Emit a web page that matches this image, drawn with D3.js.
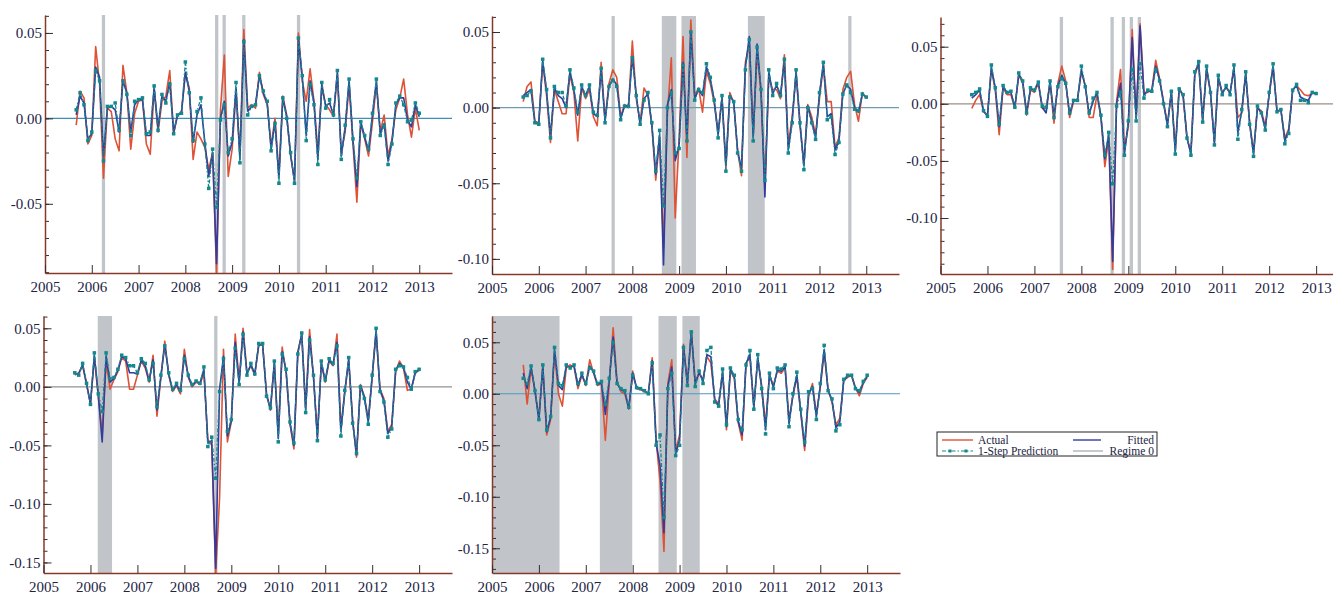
<!DOCTYPE html>
<html><head><meta charset="utf-8">
<script src="https://cdn.jsdelivr.net/npm/d3@7"></script>
<style>
html,body{margin:0;padding:0;background:#fff;}
svg{display:block;}
</style></head><body>
<svg id="c" width="1333" height="596"></svg>
<script>
// ---- time axis: monthly, Sep 2005 .. Jan 2013 ----
const startYear = 2005, startMonthIndex = 8; // September (0-based)
const yearTicks = [2005,2006,2007,2008,2009,2010,2011,2012,2013];

// ---- Panel 1 ----
const actual1 = [-0.004,0.016,0.012,-0.015,-0.010,0.042,0.020,-0.035,0.006,0.004,-0.012,-0.019,0.031,0.015,-0.018,0.003,0.010,0.011,-0.015,-0.021,0.017,-0.008,0.010,0.013,0.028,-0.009,0.002,0.004,0.026,0.018,-0.024,-0.008,-0.012,-0.017,-0.030,-0.020,-0.090,0.005,0.037,-0.034,-0.018,0.015,-0.020,0.052,0.006,0.008,0.006,0.027,0.014,0.008,-0.016,0.000,-0.033,0.013,0.002,-0.022,-0.036,0.050,0.022,0.010,0.029,0.010,-0.020,0.018,0.008,0.005,0.001,0.026,-0.020,-0.008,0.020,-0.015,-0.049,-0.003,-0.012,-0.022,-0.002,0.020,-0.008,0.002,-0.022,-0.012,0.005,0.012,0.023,0.002,-0.011,0.006,-0.007];
const fitted1 = [0.002,0.013,0.009,-0.012,-0.009,0.030,0.024,-0.022,0.006,0.007,0.005,-0.008,0.022,0.015,-0.008,0.008,0.011,0.011,-0.010,-0.010,0.018,-0.006,0.013,0.010,0.021,-0.008,0.002,0.003,0.027,0.016,-0.014,0.002,0.008,-0.014,-0.034,-0.020,-0.085,0.000,0.010,-0.022,-0.014,0.018,-0.024,0.046,0.004,0.007,0.008,0.025,0.015,0.009,-0.018,-0.002,-0.035,0.012,0.001,-0.021,-0.037,0.046,0.024,-0.010,0.022,0.009,-0.024,0.020,0.007,0.009,0.002,0.027,-0.022,-0.005,0.022,-0.013,-0.040,-0.002,-0.011,-0.019,0.002,0.022,-0.009,-0.003,-0.025,-0.014,0.008,0.012,0.012,-0.001,-0.005,0.008,0.001];
const pred1 = [0.005,0.015,0.008,-0.013,-0.008,0.028,0.022,-0.025,0.007,0.007,0.009,-0.007,0.022,0.014,-0.010,0.010,0.011,0.012,-0.009,-0.008,0.019,-0.007,0.014,0.009,0.020,-0.009,0.002,0.003,0.033,0.015,-0.013,0.004,0.012,-0.015,-0.041,-0.018,-0.052,-0.001,0.008,-0.020,-0.012,0.021,-0.026,0.045,0.002,0.007,0.008,0.025,0.016,0.010,-0.019,-0.003,-0.038,0.012,0.000,-0.020,-0.038,0.047,0.025,-0.013,0.020,0.008,-0.027,0.021,0.006,0.011,0.002,0.028,-0.024,-0.004,0.023,-0.012,-0.035,-0.002,-0.010,-0.018,0.003,0.023,-0.010,-0.004,-0.027,-0.015,0.009,0.013,0.008,-0.002,-0.001,0.009,0.003];
const regimes1 = [[2006.215,2006.285],[2008.635,2008.705],[2008.795,2008.865],[2009.215,2009.285],[2010.385,2010.455]];
const yTicks1 = [-0.05,0,0.05];

// ---- Panel 2 ----
const actual2 = [0.004,0.014,0.017,-0.009,-0.010,0.030,0.008,-0.023,0.012,0.004,-0.004,-0.004,0.022,0.010,-0.022,0.013,0.006,0.012,-0.006,-0.012,0.030,-0.008,0.016,0.025,0.020,-0.006,0.002,0.000,0.044,0.006,-0.010,0.013,0.008,-0.012,-0.048,-0.020,-0.092,-0.004,0.033,-0.073,-0.020,0.047,-0.033,0.058,0.008,0.013,-0.003,0.024,0.016,0.003,-0.016,0.006,-0.040,0.010,0.003,-0.028,-0.045,0.030,0.042,-0.018,0.036,0.010,-0.052,0.020,0.012,0.012,0.006,0.035,-0.025,-0.006,0.022,-0.012,-0.038,0.002,-0.006,-0.018,0.006,0.028,0.004,0.004,-0.026,-0.020,0.012,0.020,0.024,0.002,-0.009,0.010,0.006];
const fitted2 = [0.008,0.010,0.012,-0.010,-0.011,0.031,0.011,-0.019,0.013,0.008,0.006,0.000,0.024,0.012,-0.005,0.014,0.008,0.014,-0.004,-0.006,0.025,-0.009,0.014,0.019,0.015,-0.007,0.001,0.001,0.034,0.008,-0.011,0.006,0.009,-0.011,-0.044,-0.018,-0.104,0.002,0.012,-0.035,-0.025,0.030,-0.020,0.050,0.006,0.012,0.008,0.027,0.019,0.005,-0.018,0.007,-0.038,0.008,0.004,-0.029,-0.040,0.027,0.047,-0.020,0.042,0.012,-0.059,0.024,0.009,0.015,0.008,0.031,-0.028,-0.009,0.024,-0.010,-0.038,0.001,-0.009,-0.020,0.009,0.029,-0.006,-0.004,-0.028,-0.022,0.009,0.015,0.012,0.000,-0.003,0.009,0.007];
const pred2 = [0.007,0.008,0.011,-0.010,-0.011,0.032,0.012,-0.020,0.014,0.010,0.010,0.001,0.025,0.013,-0.003,0.015,0.008,0.015,-0.003,-0.005,0.026,-0.010,0.014,0.018,0.014,-0.008,0.001,0.001,0.033,0.008,-0.011,0.005,0.010,-0.010,-0.042,-0.015,-0.065,0.000,0.010,-0.030,-0.027,0.028,-0.022,0.050,0.005,0.012,0.010,0.029,0.020,0.005,-0.020,0.008,-0.042,0.007,0.004,-0.030,-0.042,0.025,0.045,-0.022,0.040,0.012,-0.048,0.025,0.008,0.016,0.008,0.032,-0.030,-0.010,0.025,-0.010,-0.041,0.000,-0.010,-0.021,0.010,0.030,-0.008,-0.006,-0.031,-0.023,0.009,0.015,0.010,-0.001,-0.002,0.009,0.007];
const regimes2 = [[2007.555,2007.625],[2008.63,2008.94],[2009.05,2009.36],[2010.47,2010.83],[2012.615,2012.685]];
const yTicks2 = [-0.10,-0.05,0,0.05];

// ---- Panel 3 ----
const actual3 = [-0.004,0.003,0.008,-0.007,-0.010,0.030,0.012,-0.027,0.014,0.008,0.008,-0.004,0.025,0.018,-0.010,0.012,0.010,0.018,-0.004,-0.004,0.018,-0.017,0.018,0.033,0.020,-0.012,0.002,0.004,0.028,0.016,-0.012,-0.012,0.008,-0.012,-0.055,-0.030,-0.145,0.002,0.030,-0.040,-0.020,0.065,-0.012,0.070,0.010,0.010,0.012,0.038,0.022,0.002,-0.018,0.010,-0.040,0.014,0.006,-0.030,-0.042,0.026,0.034,-0.014,0.030,0.010,-0.033,0.022,0.010,0.014,0.010,0.030,-0.012,-0.008,0.026,-0.016,-0.042,-0.004,-0.006,-0.020,0.008,0.032,-0.006,-0.006,-0.030,-0.022,0.012,0.016,0.012,0.008,0.007,0.009,0.009];
const fitted3 = [0.005,0.008,0.012,-0.006,-0.011,0.032,0.014,-0.020,0.015,0.010,0.010,-0.003,0.026,0.020,-0.008,0.013,0.012,0.019,-0.003,-0.008,0.020,-0.011,0.016,0.025,0.018,-0.009,0.003,0.003,0.030,0.015,-0.009,0.002,0.010,-0.011,-0.048,-0.026,-0.138,0.000,0.018,-0.044,-0.016,0.058,-0.013,0.068,0.008,0.011,0.011,0.033,0.021,0.001,-0.019,0.011,-0.042,0.013,0.008,-0.030,-0.044,0.027,0.036,-0.015,0.032,0.010,-0.035,0.024,0.009,0.015,0.009,0.032,-0.025,-0.006,0.027,-0.017,-0.044,-0.003,-0.008,-0.022,0.009,0.033,-0.007,-0.005,-0.032,-0.024,0.012,0.016,0.006,0.004,0.003,0.010,0.009];
const pred3 = [0.008,0.010,0.013,-0.006,-0.011,0.034,0.014,-0.018,0.016,0.010,0.011,-0.003,0.027,0.020,-0.008,0.014,0.012,0.019,-0.002,-0.003,0.020,-0.012,0.015,0.022,0.018,-0.008,0.003,0.003,0.033,0.015,-0.008,0.005,0.010,-0.010,-0.045,-0.025,-0.070,-0.002,0.010,-0.045,-0.015,0.030,-0.015,0.035,0.005,0.012,0.011,0.030,0.020,0.000,-0.020,0.011,-0.044,0.013,0.008,-0.030,-0.045,0.028,0.037,-0.016,0.033,0.010,-0.036,0.025,0.008,0.016,0.008,0.034,-0.031,-0.005,0.028,-0.018,-0.046,-0.002,-0.008,-0.023,0.010,0.035,-0.007,-0.005,-0.035,-0.026,0.012,0.017,0.003,0.003,0.001,0.010,0.009];
const regimes3 = [[2007.54,2007.61],[2008.62,2008.69],[2008.86,2008.93],[2009.03,2009.10],[2009.20,2009.27]];
const yTicks3 = [-0.10,-0.05,0,0.05];

// ---- Panel 4 ----
const actual4 = [0.010,0.012,0.018,0.002,-0.014,0.025,-0.008,-0.040,0.022,-0.002,0.006,0.013,0.025,0.022,-0.002,-0.002,0.010,0.022,0.016,0.004,0.027,-0.025,0.008,0.039,0.010,-0.004,0.001,-0.006,0.032,0.008,0.000,0.004,0.002,0.012,-0.045,-0.050,-0.160,-0.095,0.032,-0.047,-0.030,0.045,0.004,0.050,0.012,0.018,0.010,0.035,0.036,-0.006,-0.020,0.020,-0.040,0.034,0.012,-0.032,-0.053,0.030,0.045,-0.018,0.049,0.008,-0.042,0.020,0.004,0.022,0.018,0.045,-0.035,-0.005,0.022,-0.028,-0.060,0.002,-0.008,-0.028,0.008,0.046,-0.002,-0.010,-0.038,-0.032,0.013,0.022,0.016,-0.003,-0.002,0.012,0.014];
const fitted4 = [0.011,0.011,0.019,0.003,-0.015,0.027,-0.007,-0.047,0.026,0.004,0.007,0.014,0.026,0.024,0.012,0.012,0.011,0.023,0.018,0.005,0.023,-0.020,0.009,0.036,0.011,-0.003,0.002,-0.004,0.027,0.009,0.001,0.005,0.003,0.015,-0.048,-0.046,-0.155,-0.002,0.026,-0.042,-0.029,0.038,0.003,0.047,0.011,0.019,0.011,0.036,0.036,-0.007,-0.019,0.021,-0.044,0.030,0.014,-0.031,-0.050,0.029,0.045,-0.020,0.043,0.009,-0.044,0.021,0.005,0.023,0.019,0.038,-0.038,-0.004,0.024,-0.029,-0.058,0.001,-0.009,-0.030,0.009,0.048,-0.003,-0.012,-0.040,-0.034,0.014,0.020,0.017,0.004,-0.002,0.012,0.015];
const pred4 = [0.012,0.010,0.020,0.003,-0.015,0.029,-0.006,-0.021,0.029,0.007,0.008,0.015,0.027,0.025,0.018,0.018,0.012,0.024,0.020,0.006,0.020,-0.017,0.010,0.035,0.012,-0.002,0.003,-0.003,0.024,0.010,0.002,0.005,0.003,0.017,-0.051,-0.043,-0.078,-0.004,0.024,-0.038,-0.028,0.033,0.002,0.045,0.010,0.020,0.011,0.037,0.037,-0.008,-0.018,0.022,-0.047,0.028,0.015,-0.030,-0.048,0.028,0.046,-0.022,0.040,0.010,-0.046,0.022,0.006,0.024,0.020,0.035,-0.042,-0.003,0.025,-0.031,-0.057,0.000,-0.010,-0.032,0.010,0.050,-0.004,-0.013,-0.043,-0.036,0.015,0.018,0.017,0.008,-0.002,0.013,0.015];
const regimes4 = [[2006.155,2006.46],[2008.635,2008.705]];
const yTicks4 = [-0.15,-0.10,-0.05,0,0.05];

// ---- Panel 5 ----
const actual5 = [0.028,-0.010,0.025,0.002,-0.022,0.025,-0.040,-0.025,0.040,0.000,-0.012,0.025,0.028,0.026,0.005,0.018,0.008,0.033,0.020,0.008,0.010,-0.045,0.010,0.064,0.012,0.002,0.000,-0.015,0.022,0.005,0.004,0.002,0.001,0.035,-0.045,-0.085,-0.153,0.010,0.033,-0.055,-0.040,0.048,0.010,0.060,0.012,0.020,0.014,0.036,0.030,-0.005,-0.010,0.020,-0.035,0.022,0.015,-0.028,-0.045,0.030,0.035,-0.012,0.034,0.008,-0.030,0.018,0.008,0.022,0.020,0.025,-0.025,-0.002,0.016,-0.018,-0.055,-0.003,0.010,-0.020,0.006,0.040,0.004,-0.008,-0.030,-0.024,0.013,0.016,0.018,0.006,-0.002,0.010,0.016];
const fitted5 = [0.020,0.005,0.026,0.003,-0.026,0.027,-0.037,-0.023,0.043,0.008,0.004,0.027,0.026,0.027,0.008,0.019,0.009,0.027,0.021,0.009,0.011,-0.020,0.013,0.055,0.010,0.004,0.002,-0.014,0.020,0.006,0.005,0.003,0.000,0.032,-0.048,-0.070,-0.135,0.007,0.026,-0.058,-0.045,0.046,0.009,0.061,0.009,0.021,0.012,0.038,0.036,-0.007,-0.011,0.022,-0.032,0.024,0.017,-0.027,-0.040,0.029,0.038,-0.014,0.035,0.006,-0.035,0.019,0.006,0.023,0.022,0.026,-0.029,-0.001,0.018,-0.017,-0.051,0.000,0.007,-0.022,0.008,0.043,0.003,-0.006,-0.033,-0.027,0.013,0.017,0.018,0.005,0.001,0.011,0.017];
const pred5 = [0.015,0.010,0.027,0.003,-0.025,0.028,-0.035,-0.022,0.045,0.010,0.008,0.028,0.025,0.028,0.010,0.020,0.010,0.025,0.022,0.010,0.012,-0.010,0.015,0.050,0.010,0.005,0.003,-0.013,0.018,0.006,0.005,0.003,0.000,0.030,-0.050,-0.040,-0.120,0.005,0.020,-0.060,-0.050,0.045,0.008,0.060,0.007,0.022,0.010,0.042,0.045,-0.008,-0.012,0.024,-0.030,0.025,0.018,-0.025,-0.035,0.028,0.042,-0.015,0.038,0.005,-0.039,0.020,0.005,0.025,0.024,0.028,-0.032,0.000,0.021,-0.015,-0.047,0.002,0.005,-0.025,0.010,0.047,0.003,-0.005,-0.036,-0.030,0.014,0.018,0.018,0.005,0.003,0.012,0.018];
const regimes5 = [[2005.0,2006.44],[2007.30,2007.99],[2008.55,2008.94],[2009.06,2009.43]];
const yTicks5 = [-0.15,-0.10,-0.05,0,0.05];

// ---- legend ----
const legendItems = ["Actual","Fitted","1-Step Prediction","Regime 0"];

// ---- layout (pixels) ----
const panels = [
  {a:actual1,f:fitted1,p:pred1,reg:regimes1,ticks:yTicks1,dom:[-0.0905,0.0605],x0:45,x1:452,top:15,bot:273,zero:"#3d8fb8"},
  {a:actual2,f:fitted2,p:pred2,reg:regimes2,ticks:yTicks2,dom:[-0.110,0.0606],x0:492,x1:899,top:16,bot:274,zero:"#6f9bb0"},
  {a:actual3,f:fitted3,p:pred3,reg:regimes3,ticks:yTicks3,dom:[-0.149,0.076],x0:940.5,x1:1349,top:17,bot:274,zero:"#9c8f88"},
  {a:actual4,f:fitted4,p:pred4,reg:regimes4,ticks:yTicks4,dom:[-0.159,0.0605],x0:43.5,x1:452,top:316,bot:573,zero:"#8f9294"},
  {a:actual5,f:fitted5,p:pred5,reg:regimes5,ticks:yTicks5,dom:[-0.174,0.0755],x0:492,x1:900,top:316,bot:573,zero:"#4f98c4"}
];

const C = {actual:"#de5236", fitted:"#323c9e", pred:"#14888e", regime:"#c1c5c9", axis:"#86392b", text:"#1d2444"};
const svg = d3.select("#c");
const FONT = "'Liberation Serif','Times New Roman',serif";
const tOf = i => startYear + (startMonthIndex + i)/12;
const fmt = d => d.toFixed(2);

panels.forEach((P, k) => {
  const x = d3.scaleLinear().domain([2005, 2013.7]).range([P.x0, P.x1]);
  const y = d3.scaleLinear().domain(P.dom).range([P.bot, P.top]);
  const g = svg.append("g");
  const clipId = "clip"+k;
  svg.append("clipPath").attr("id", clipId).append("rect")
    .attr("x", P.x0).attr("y", P.top).attr("width", P.x1-P.x0).attr("height", P.bot-P.top);

  // regime bands
  g.append("g").selectAll("rect").data(P.reg).join("rect")
    .attr("x", d => x(d[0])).attr("width", d => x(d[1]) - x(d[0]))
    .attr("y", P.top).attr("height", P.bot - P.top)
    .attr("fill", C.regime);

  // zero line
  g.append("line").attr("x1", P.x0).attr("x2", P.x1).attr("y1", y(0)).attr("y2", y(0))
    .attr("stroke", P.zero).attr("stroke-width", 1.2);

  const line = d3.line().x((d,i) => x(tOf(i))).y(d => y(d));
  const dg = g.append("g").attr("clip-path", `url(#${clipId})`);
  dg.append("path").datum(P.a).attr("d", line).attr("fill","none")
    .attr("stroke", C.actual).attr("stroke-width", 1.6).attr("stroke-linejoin","round");
  dg.append("path").datum(P.f).attr("d", line).attr("fill","none")
    .attr("stroke", C.fitted).attr("stroke-width", 1.6).attr("stroke-linejoin","round");
  dg.append("path").datum(P.p).attr("d", line).attr("fill","none")
    .attr("stroke", C.pred).attr("stroke-width", 1.3).attr("stroke-dasharray","4 2 1.5 2");
  dg.append("g").selectAll("rect").data(P.p).join("rect")
    .attr("x", (d,i) => x(tOf(i)) - 1.75).attr("y", d => y(d) - 1.75)
    .attr("width", 3.5).attr("height", 3.5).attr("fill", C.pred);

  // minor y ticks
  const minor = d3.range(Math.ceil(P.dom[0]*100), Math.floor(P.dom[1]*100)+1).map(v => v/100);
  g.append("g").attr("transform", `translate(${P.x0},0)`)
    .call(d3.axisLeft(y).tickValues(minor).tickSizeInner(-4).tickSizeOuter(0).tickFormat(""))
    .call(a => a.select(".domain").remove())
    .call(a => a.selectAll("line").attr("stroke", "#3b2b2b"));

  // major y axis
  g.append("g").attr("transform", `translate(${P.x0},0)`)
    .call(d3.axisLeft(y).tickValues(P.ticks).tickSizeInner(-8).tickSizeOuter(0).tickPadding(3).tickFormat(fmt))
    .call(a => a.select(".domain").attr("stroke", C.axis).attr("stroke-width", 1.5))
    .call(a => a.selectAll("line").attr("stroke", "#3b2b2b"))
    .call(a => a.selectAll("text").attr("font-family", FONT).attr("font-size", 15).attr("fill", C.text));

  // x axis
  g.append("g").attr("transform", `translate(0,${P.bot})`)
    .call(d3.axisBottom(x).tickValues(yearTicks).tickSizeInner(-8).tickSizeOuter(0).tickPadding(8).tickFormat(d => String(d)))
    .call(a => a.select(".domain").attr("stroke", C.axis).attr("stroke-width", 1.5))
    .call(a => a.selectAll("line").attr("stroke", "#3b2b2b"))
    .call(a => a.selectAll("text").attr("font-family", FONT).attr("font-size", 15).attr("fill", C.text));
});

// legend
const L = svg.append("g").attr("font-family", FONT).attr("font-size", 11.5).attr("fill", C.text);
L.append("rect").attr("x", 937).attr("y", 432).attr("width", 220).attr("height", 24)
  .attr("fill", "#fff").attr("stroke", "#222").attr("stroke-width", 1);
const r1 = 440, r2 = 451;
L.append("line").attr("x1", 942).attr("x2", 973).attr("y1", r1).attr("y2", r1).attr("stroke", C.actual).attr("stroke-width", 1.4);
L.append("text").attr("x", 978).attr("y", r1).attr("dy", "0.35em").text(legendItems[0]);
L.append("line").attr("x1", 1073).attr("x2", 1101).attr("y1", r1).attr("y2", r1).attr("stroke", C.fitted).attr("stroke-width", 1.4);
L.append("text").attr("x", 1154).attr("y", r1).attr("dy", "0.35em").attr("text-anchor","end").text(legendItems[1]);
L.append("line").attr("x1", 942).attr("x2", 973).attr("y1", r2).attr("y2", r2).attr("stroke", C.pred).attr("stroke-width", 1.2).attr("stroke-dasharray","4 2 1.5 2");
L.selectAll("rect.mk").data([950, 966]).join("rect").attr("class","mk")
  .attr("x", d => d-1.5).attr("y", r2-1.5).attr("width", 3).attr("height", 3).attr("fill", C.pred);
L.append("text").attr("x", 978).attr("y", r2).attr("dy", "0.35em").text(legendItems[2]);
L.append("line").attr("x1", 1073).attr("x2", 1103).attr("y1", r2).attr("y2", r2).attr("stroke", "#aab5bd").attr("stroke-width", 1.4);
L.append("text").attr("x", 1154).attr("y", r2).attr("dy", "0.35em").attr("text-anchor","end").text(legendItems[3]);
</script>
</body></html>
